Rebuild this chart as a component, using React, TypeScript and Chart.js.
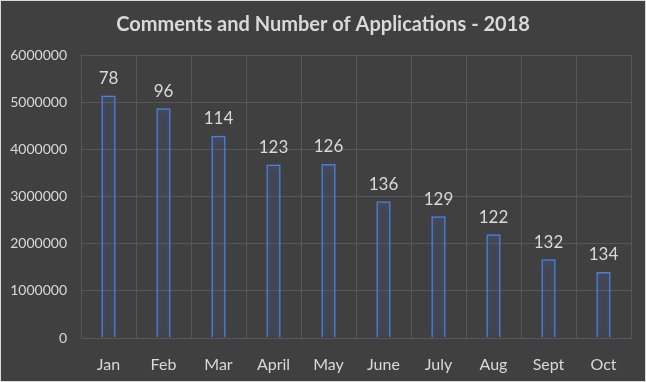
import React, { useEffect, useRef } from "react";
import { Chart, registerables } from "chart.js";

Chart.register(...registerables);

const TITLE = "Comments and Number of Applications - 2018";
const months = ["Jan", "Feb", "Mar", "April", "May", "June", "July", "Aug", "Sept", "Oct"];
const comments = [5140000, 4870000, 4290000, 3680000, 3690000, 2900000, 2580000, 2200000, 1670000, 1400000];
const applications = [78, 96, 114, 123, 126, 136, 129, 122, 132, 134];
const yTicks = [0, 1000000, 2000000, 3000000, 4000000, 5000000, 6000000];

const FONT = "Lato, 'Liberation Sans', sans-serif";
const TEXT = "#d9d9d9";

const glowPlugin = {
  id: "glow",
  beforeDatasetDraw(chart: any) {
    const ctx = chart.ctx;
    ctx.save();
    ctx.shadowColor = "rgba(70,120,230,1)";
    ctx.shadowBlur = 8;
  },
  afterDatasetDraw(chart: any) {
    chart.ctx.restore();
  },
};

const labelPlugin = {
  id: "appLabels",
  afterDatasetsDraw(chart: any) {
    const ctx = chart.ctx;
    const meta = chart.getDatasetMeta(0);
    ctx.save();
    ctx.fillStyle = TEXT;
    ctx.font = `17px ${FONT}`;
    ctx.textAlign = "center";
    ctx.textBaseline = "middle";
    meta.data.forEach((bar: any, i: number) => {
      ctx.fillText(String(applications[i]), bar.x, bar.y - 17);
    });
    ctx.restore();
  },
};

const bgPlugin = {
  id: "bg",
  beforeDraw(chart: any) {
    const { ctx, width, height } = chart;
    ctx.save();
    ctx.fillStyle = "#404040";
    ctx.fillRect(0, 0, width, height);
    ctx.strokeStyle = "#d9d9d9";
    ctx.lineWidth = 1;
    ctx.strokeRect(0.5, 0.5, width - 1, height - 1);
    ctx.restore();
  },
};

const titlePlugin = {
  id: "centerTitle",
  afterDraw(chart: any) {
    const { ctx, width } = chart;
    ctx.save();
    ctx.fillStyle = TEXT;
    ctx.font = `bold 20px ${FONT}`;
    ctx.textAlign = "center";
    ctx.textBaseline = "middle";
    ctx.fillText(TITLE, width / 2, 25);
    ctx.restore();
  },
};

export default function App() {
  const ref = useRef<HTMLCanvasElement>(null);
  useEffect(() => {
    document.body.style.margin = "0";
    const chart = new Chart(ref.current!, {
      type: "bar",
      data: {
        labels: months,
        datasets: [
          {
            data: comments,
            backgroundColor: "rgba(64,64,64,0)",
            borderColor: "#4a7fe0",
            borderWidth: 1.5,
            categoryPercentage: 1,
            barPercentage: 0.26,
          },
        ],
      },
      options: {
        responsive: false,
        animation: false,
        layout: { padding: { left: 0, right: 15, top: 55, bottom: 0 } },
        plugins: {
          legend: { display: false },
          tooltip: { enabled: false },
          title: { display: false },
        },
        scales: {
          x: {
            grid: { color: "#575757", offset: true, drawTicks: false },
            border: { color: "#575757" },
            ticks: { color: TEXT, font: { family: FONT, size: 16 }, padding: 17 },
            afterFit(axis: any) {
              axis.height = 44;
            },
          },
          y: {
            min: 0,
            max: 6000000,
            afterBuildTicks(axis: any) {
              axis.ticks = yTicks.map((v) => ({ value: v }));
            },
            afterFit(axis: any) {
              axis.width = 81;
            },
            grid: { color: "#575757", drawTicks: false },
            border: { display: false },
            ticks: {
              color: TEXT,
              font: { family: FONT, size: 14 },
              padding: 14,
              callback: (v: any) => String(v),
            },
          },
        },
      },
      plugins: [bgPlugin, glowPlugin, labelPlugin, titlePlugin],
    });
    return () => chart.destroy();
  }, []);
  return <canvas ref={ref} width={646} height={382} style={{ display: "block" }} />;
}
